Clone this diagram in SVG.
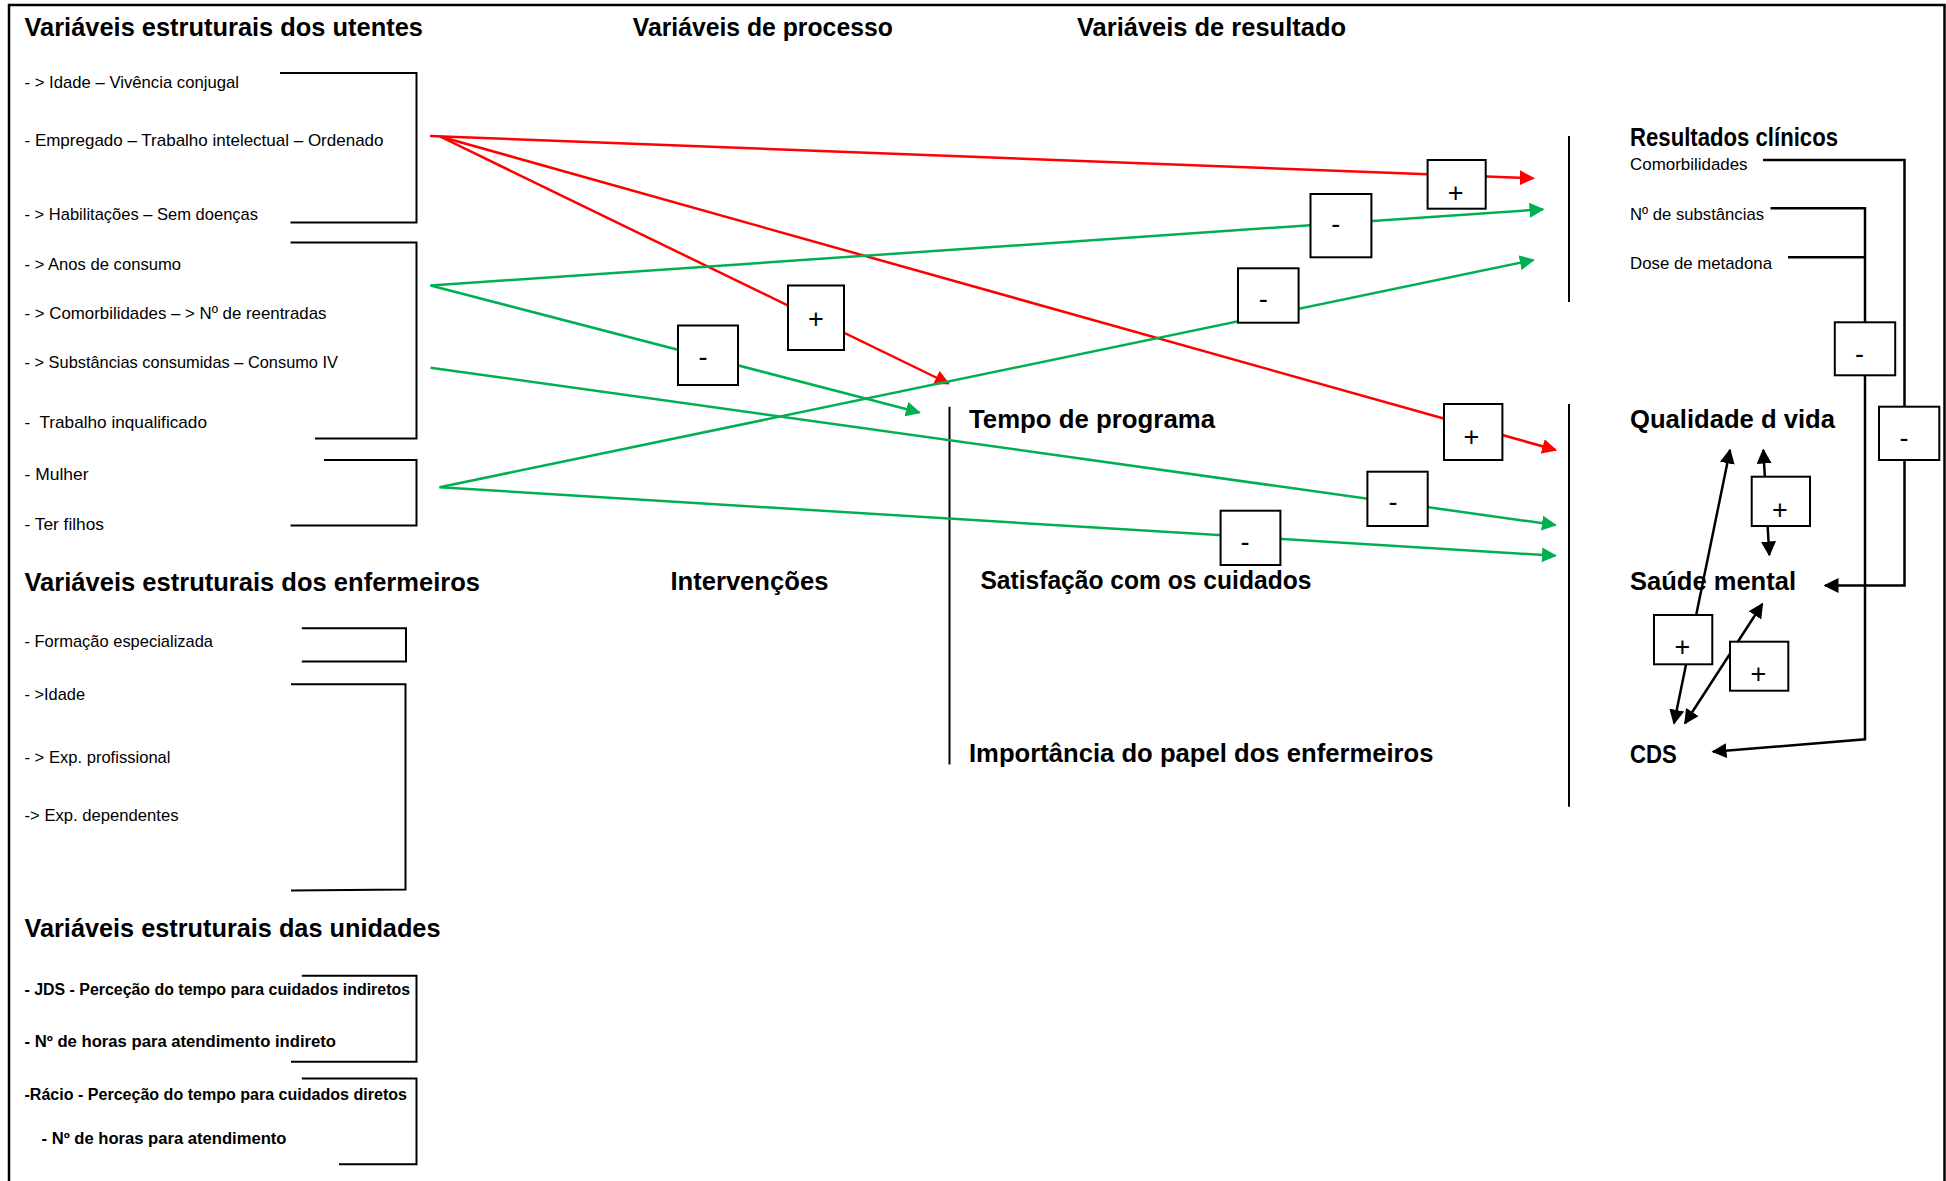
<svg xmlns="http://www.w3.org/2000/svg" width="1946" height="1181" viewBox="0 0 1946 1181">
  <style>
    text { font-family: "Liberation Sans", Arial, sans-serif; fill: #000; }
    .h { font-size: 25px; font-weight: bold; }
    .t { font-size: 17px; }
    .u { font-size: 16px; font-weight: bold; }
    .sign { font-size: 27px; text-anchor: middle; }
    .frame { fill: none; stroke: #000; stroke-width: 2.5; }
    .br { fill: none; stroke: #000; stroke-width: 2; }
    .sep { fill: none; stroke: #000; stroke-width: 2; }
    .box { fill: #fff; stroke: #000; stroke-width: 2; }
    .red { fill: none; stroke: #ff0000; stroke-width: 2.5; marker-end: url(#arR); }
    .grn { fill: none; stroke: #00b050; stroke-width: 2.5; marker-end: url(#arG); }
    .blk { fill: none; stroke: #000; stroke-width: 2.5; }
    .end { marker-end: url(#arK); }
    .both { marker-start: url(#arK); marker-end: url(#arK); }
  </style>
  <defs>
    <marker id="arR" markerUnits="userSpaceOnUse" viewBox="0 0 15 15" markerWidth="15" markerHeight="15" refX="13.5" refY="7.5" orient="auto-start-reverse">
      <path d="M0,0 L15,7.5 L0,15 z" fill="#ff0000"/>
    </marker>
    <marker id="arG" markerUnits="userSpaceOnUse" viewBox="0 0 15 15" markerWidth="15" markerHeight="15" refX="13.5" refY="7.5" orient="auto-start-reverse">
      <path d="M0,0 L15,7.5 L0,15 z" fill="#00b050"/>
    </marker>
    <marker id="arK" markerUnits="userSpaceOnUse" viewBox="0 0 15 15" markerWidth="15" markerHeight="15" refX="13.5" refY="7.5" orient="auto-start-reverse">
      <path d="M0,0 L15,7.5 L0,15 z" fill="#000"/>
    </marker>
  </defs>

  <rect width="1946" height="1181" fill="#fff"/>
  <path class="frame" d="M9,1181 V5 H1944.5 V1181"/>

  <!-- column and section headers -->
  <g id="headers">
    <text class="h" x="24.5" y="35.5" textLength="398.5" lengthAdjust="spacingAndGlyphs">Variáveis estruturais dos utentes</text>
    <text class="h" x="632.8" y="35.5" textLength="260" lengthAdjust="spacingAndGlyphs">Variáveis de processo</text>
    <text class="h" x="1077" y="35.5" textLength="269" lengthAdjust="spacingAndGlyphs">Variáveis de resultado</text>
    <text class="h" x="24.5" y="591" textLength="455.5" lengthAdjust="spacingAndGlyphs">Variáveis estruturais dos enfermeiros</text>
    <text class="h" x="670.4" y="590" textLength="158" lengthAdjust="spacingAndGlyphs">Intervenções</text>
    <text class="h" x="24.5" y="937" textLength="416" lengthAdjust="spacingAndGlyphs">Variáveis estruturais das unidades</text>
  </g>

  <!-- patient structural variables -->
  <g id="utentes">
    <text class="t" x="24.5" y="88" textLength="214.5" lengthAdjust="spacingAndGlyphs">- &gt; Idade – Vivência conjugal</text>
    <text class="t" x="24.5" y="146" textLength="359" lengthAdjust="spacingAndGlyphs">- Empregado – Trabalho intelectual – Ordenado</text>
    <text class="t" x="24.5" y="219.5" textLength="233.5" lengthAdjust="spacingAndGlyphs">- &gt; Habilitações – Sem doenças</text>
    <text class="t" x="24.5" y="269.5" textLength="156.5" lengthAdjust="spacingAndGlyphs">- &gt; Anos de consumo</text>
    <text class="t" x="24.5" y="319" textLength="302" lengthAdjust="spacingAndGlyphs">- &gt; Comorbilidades – &gt; Nº de reentradas</text>
    <text class="t" x="24.5" y="368" textLength="313.5" lengthAdjust="spacingAndGlyphs">- &gt; Substâncias consumidas – Consumo IV</text>
    <text class="t" x="24.5" y="428" textLength="182.5" lengthAdjust="spacingAndGlyphs" xml:space="preserve">-  Trabalho inqualificado</text>
    <text class="t" x="24.5" y="480" textLength="64" lengthAdjust="spacingAndGlyphs">- Mulher</text>
    <text class="t" x="24.5" y="530" textLength="79.5" lengthAdjust="spacingAndGlyphs">- Ter filhos</text>
  </g>

  <!-- nurse structural variables -->
  <g id="enfermeiros">
    <text class="t" x="24.5" y="647" textLength="188.5" lengthAdjust="spacingAndGlyphs">- Formação especializada</text>
    <text class="t" x="24.5" y="700" textLength="60.5" lengthAdjust="spacingAndGlyphs">- &gt;Idade</text>
    <text class="t" x="24.5" y="763" textLength="146" lengthAdjust="spacingAndGlyphs">- &gt; Exp. profissional</text>
    <text class="t" x="24.5" y="820.5" textLength="154" lengthAdjust="spacingAndGlyphs">-&gt; Exp. dependentes</text>
  </g>

  <!-- unit structural variables -->
  <g id="unidades">
    <text class="u" x="24.5" y="994.5" textLength="385.5" lengthAdjust="spacingAndGlyphs">- JDS - Perceção do tempo para cuidados indiretos</text>
    <text class="u" x="24.5" y="1047" textLength="311.5" lengthAdjust="spacingAndGlyphs">- Nº de horas para atendimento indireto</text>
    <text class="u" x="24.5" y="1100" textLength="382.5" lengthAdjust="spacingAndGlyphs">-Rácio - Perceção do tempo para cuidados diretos</text>
    <text class="u" x="41.5" y="1143.5" textLength="245" lengthAdjust="spacingAndGlyphs">- Nº de horas para atendimento</text>
  </g>

  <!-- grouping brackets -->
  <g id="brackets">
    <path class="br" d="M280,73 H416.5 V222.5 H290.5"/>
    <path class="br" d="M290.5,242.5 H416.5 V438.5 H315"/>
    <path class="br" d="M324,460 H416.5 V525.5 H290.5"/>
    <path class="br" d="M301.8,628.3 H406 V661.4 H301.8"/>
    <path class="br" d="M291,684.3 H405.5 V889.5 L291,890.4"/>
    <path class="br" d="M301.8,975.8 H416.5 V1061.7 H291"/>
    <path class="br" d="M301.8,1078.4 H416.5 V1164.3 H339"/>
  </g>

  <!-- outcome separators -->
  <g id="separators">
    <line class="sep" x1="949.5" y1="406.7" x2="949.5" y2="764.5"/>
    <line class="sep" x1="1569" y1="136" x2="1569" y2="302"/>
    <line class="sep" x1="1569" y1="404" x2="1569" y2="806.7"/>
  </g>

  <!-- process outcomes -->
  <g id="tempo-programa"><text class="h" x="969" y="427.7" textLength="246" lengthAdjust="spacingAndGlyphs">Tempo de programa</text></g>
  <g id="satisfacao"><text class="h" x="980.4" y="589.3" textLength="331" lengthAdjust="spacingAndGlyphs">Satisfação com os cuidados</text></g>
  <g id="importancia"><text class="h" x="969" y="761.7" textLength="464.5" lengthAdjust="spacingAndGlyphs">Importância do papel dos enfermeiros</text></g>

  <!-- clinical results -->
  <g id="resultados-clinicos">
    <text class="h" x="1630" y="146" textLength="208" lengthAdjust="spacingAndGlyphs">Resultados clínicos</text>
    <text class="t" x="1630" y="170" textLength="117.6" lengthAdjust="spacingAndGlyphs">Comorbilidades</text>
    <text class="t" x="1630" y="220" textLength="134" lengthAdjust="spacingAndGlyphs">Nº de substâncias</text>
    <text class="t" x="1630" y="269" textLength="142" lengthAdjust="spacingAndGlyphs">Dose de metadona</text>
  </g>
  <g id="qualidade-vida"><text class="h" x="1630" y="428" textLength="205" lengthAdjust="spacingAndGlyphs">Qualidade d vida</text></g>
  <g id="saude-mental"><text class="h" x="1630" y="590" textLength="166" lengthAdjust="spacingAndGlyphs">Saúde mental</text></g>
  <g id="cds"><text class="h" x="1630" y="763" textLength="46.7" lengthAdjust="spacingAndGlyphs">CDS</text></g>

  <!-- connectors -->
  <g id="connectors">
    <line class="red" x1="430" y1="136" x2="1533.3" y2="178.3"/>
    <line class="red" x1="440" y1="136.5" x2="1555.7" y2="450"/>
    <line class="red" x1="440" y1="136.5" x2="948.5" y2="383.5"/>

    <line class="grn" x1="430.5" y1="285.5" x2="1543" y2="209.3"/>
    <line class="grn" x1="430.5" y1="285.5" x2="919.4" y2="412.5"/>
    <line class="grn" x1="430.5" y1="367.7" x2="1555.4" y2="525"/>
    <line class="grn" x1="439.5" y1="487.3" x2="1533.3" y2="260"/>
    <line class="grn" x1="439.5" y1="487.3" x2="1555.4" y2="555.7"/>

    <path class="blk end" d="M1763,160 H1904.5 V585.5 H1825"/>
    <path class="blk end" d="M1770.5,208.3 H1865 V739.3 L1713,751.7"/>
    <path class="blk" d="M1788,257.3 H1865"/>
    <line class="blk both" x1="1674" y1="723.3" x2="1730" y2="450"/>
    <line class="blk both" x1="1763.3" y1="450" x2="1769.3" y2="555"/>
    <line class="blk both" x1="1685" y1="723.3" x2="1762.3" y2="604"/>
  </g>

  <!-- effect sign labels on the connectors -->
  <g id="connector-labels">
    <rect class="box" x="1427.6" y="160" width="58.1" height="48.7"/>
    <text class="sign" x="1455.7" y="201.5">+</text>
    <rect class="box" x="1310.5" y="194" width="60.9" height="63.3"/>
    <text class="sign" x="1335.7" y="233.3">-</text>
    <rect class="box" x="1238" y="268.3" width="60.6" height="54.4"/>
    <text class="sign" x="1263.3" y="308.3">-</text>
    <rect class="box" x="788" y="285.5" width="56" height="64.5"/>
    <text class="sign" x="815.8" y="327.5">+</text>
    <rect class="box" x="678" y="325.5" width="60" height="59.5"/>
    <text class="sign" x="703" y="365.6">-</text>
    <rect class="box" x="1444" y="404" width="58.4" height="56"/>
    <text class="sign" x="1471.4" y="445.9">+</text>
    <rect class="box" x="1367.4" y="471.7" width="60.3" height="54.3"/>
    <text class="sign" x="1392.9" y="511.3">-</text>
    <rect class="box" x="1220.6" y="510.7" width="59.8" height="54.3"/>
    <text class="sign" x="1245" y="550.6">-</text>
    <rect class="box" x="1834.8" y="322.3" width="60.4" height="53"/>
    <text class="sign" x="1859.5" y="363">-</text>
    <rect class="box" x="1879" y="406.7" width="60.3" height="53.3"/>
    <text class="sign" x="1904" y="446.6">-</text>
    <rect class="box" x="1751.7" y="476.7" width="58.3" height="49.3"/>
    <text class="sign" x="1780" y="518.5">+</text>
    <rect class="box" x="1654" y="615" width="58.3" height="49.3"/>
    <text class="sign" x="1682.3" y="655.9">+</text>
    <rect class="box" x="1730" y="641.7" width="58.3" height="49"/>
    <text class="sign" x="1758.3" y="682.5">+</text>
  </g>
</svg>
